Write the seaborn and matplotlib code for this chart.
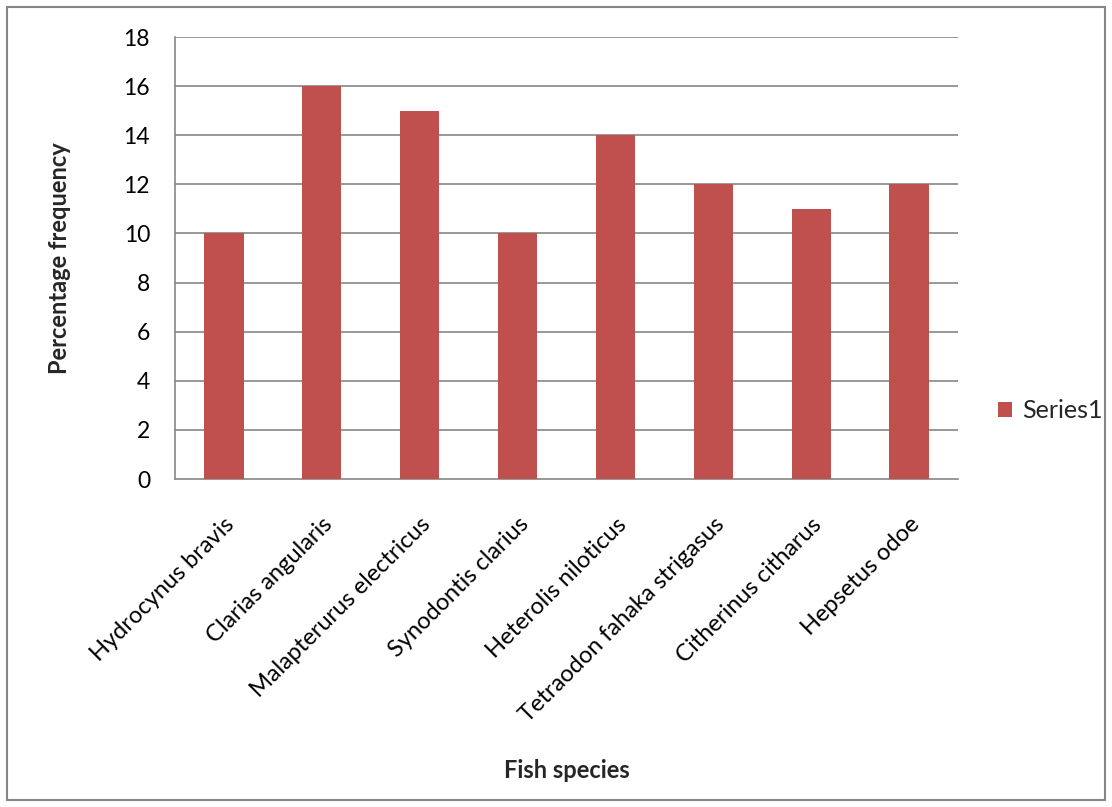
import matplotlib
matplotlib.use("Agg")
import matplotlib.pyplot as plt
import matplotlib.transforms as mtransforms
import seaborn as sns
import pandas as pd
from matplotlib.patches import Rectangle, Patch

species = ["Hydrocynus bravis", "Clarias angularis", "Malapterurus electricus",
           "Synodontis clarius", "Heterolis niloticus", "Tetraodon fahaka strigasus",
           "Citherinus citharus", "Hepsetus odoe"]
values = [10, 16, 15, 10, 14, 12, 11, 12]
yticks = [0, 2, 4, 6, 8, 10, 12, 14, 16, 18]
series_name = "Series1"

sns.set_theme(style="white")
plt.rcParams['font.family'] = ['Lato', 'DejaVu Sans']

df = pd.DataFrame({"species": species, "value": values})

fig = plt.figure(figsize=(11.12, 8.07), dpi=100)
ax = fig.add_axes([175/1112, 328/807, 783/1112, 442/807])

bar_color = "#C0504D"
grid_color = "#868686"

sns.barplot(data=df, x="species", y="value", color=bar_color, width=0.4,
            saturation=1, ax=ax, zorder=3, linewidth=0, edgecolor="none")

ax.set_ylim(0, 18)
ax.set_xlim(-0.5, len(species) - 0.5)
ax.set_yticks(yticks)
ax.set_yticklabels([str(v) for v in yticks], fontsize=16.5, color="black")
for v in yticks[1:]:
    ax.axhline(v, color=grid_color, lw=1.2, zorder=1)

ax.set_xticks(range(len(species)))
ax.set_xticklabels(species, rotation=45, ha="right", rotation_mode="anchor",
                   fontsize=17, color="black")
offset = mtransforms.ScaledTranslation(-4/100, 0, fig.dpi_scale_trans)
for lbl in ax.get_xticklabels():
    lbl.set_transform(lbl.get_transform() + offset)
ax.set_xticks([i - 0.5 for i in range(len(species) + 1)], minor=True)
ax.tick_params(axis="x", which="major", length=0, pad=25)
ax.tick_params(axis="x", which="minor", length=8, width=1.2, color=grid_color, direction="out")
ax.tick_params(axis="y", length=9, width=1.2, color=grid_color, direction="out", pad=9)

for s in ["top", "right"]:
    ax.spines[s].set_visible(False)
for s in ["left", "bottom"]:
    ax.spines[s].set_color(grid_color)
    ax.spines[s].set_linewidth(1.2)

ax.set_xlabel("Fish species", fontsize=17, fontweight="bold", labelpad=0)
ax.xaxis.set_label_coords(0.5, -0.633)
ax.set_ylabel("Percentage frequency", fontsize=17, fontweight="bold")
ax.yaxis.set_label_coords(-0.133, 0.5)

handles = [Patch(facecolor=bar_color, edgecolor="none")]
fig.legend(handles, [series_name], loc="center left", bbox_to_anchor=(988/1112, 1 - 411/807),
           frameon=False, fontsize=18, handlelength=0.55, handleheight=0.55, handletextpad=0.4,
           borderaxespad=0)

fig.patches.append(Rectangle((7/1112, 7/807), 1098/1112, 793/807, transform=fig.transFigure,
                             fill=False, edgecolor="#868686", lw=1.5))

fig.savefig("out.png", dpi=100, facecolor="white")
